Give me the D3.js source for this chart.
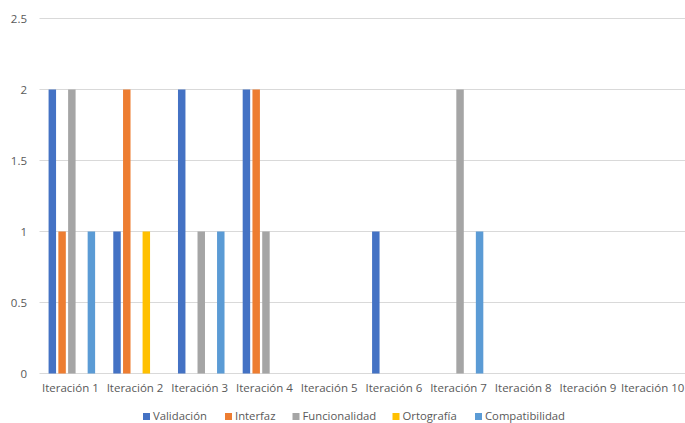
<!DOCTYPE html>
<html>
<head>
<meta charset="utf-8">
<script src="https://cdn.jsdelivr.net/npm/d3@7"></script>
<style>
  html, body { margin: 0; padding: 0; background: #ffffff; }
  svg { display: block; }
  text { font-family: "Open Sans", "Noto Sans", sans-serif; fill: #595959; }
</style>
</head>
<body>
<svg id="chart" width="685" height="423"></svg>
<script>
// Defect counts per iteration, by category
const iterations = ["Iteración 1", "Iteración 2", "Iteración 3", "Iteración 4", "Iteración 5",
                    "Iteración 6", "Iteración 7", "Iteración 8", "Iteración 9", "Iteración 10"];
const seriesNames = ["Validación", "Interfaz", "Funcionalidad", "Ortografía", "Compatibilidad"];
const validacion     = [2, 1, 2, 2, 0, 1, 0, 0, 0, 0];
const interfaz       = [1, 2, 0, 2, 0, 0, 0, 0, 0, 0];
const funcionalidad  = [2, 0, 1, 1, 0, 0, 2, 0, 0, 0];
const ortografia     = [0, 1, 0, 0, 0, 0, 0, 0, 0, 0];
const compatibilidad = [1, 0, 1, 0, 0, 0, 1, 0, 0, 0];
const yTicks = [0, 0.5, 1, 1.5, 2, 2.5];
const colors = ["#4472C4", "#ED7D31", "#A5A5A5", "#FFC000", "#5B9BD5"];

const seriesValues = [validacion, interfaz, funcionalidad, ortografia, compatibilidad];
const rows = iterations.map((it, i) => ({
  iteration: it,
  values: seriesNames.map((s, k) => ({ series: s, value: seriesValues[k][i] }))
}));

const svg = d3.select("#chart");
const plotLeft = 39.5, plotRight = 686.5, plotTop = 18.5, plotBottom = 373.5;
const fontSize = "11.5px";

const x0 = d3.scaleBand().domain(iterations).range([plotLeft, plotRight]).padding(0);
const x1 = d3.scaleBand().domain(seriesNames).range([0, x0.bandwidth()])
  .paddingInner(0.235).paddingOuter(0.93);
const y = d3.scaleLinear().domain([0, 2.5]).range([plotBottom, plotTop]);
const color = d3.scaleOrdinal().domain(seriesNames).range(colors);

// Horizontal gridlines
svg.append("g")
  .selectAll("line")
  .data(yTicks)
  .join("line")
  .attr("x1", plotLeft).attr("x2", 685)
  .attr("y1", d => y(d)).attr("y2", d => y(d))
  .attr("stroke", "#D9D9D9").attr("stroke-width", 1);

// Y axis labels
const yAxis = d3.axisLeft(y).tickValues(yTicks).tickSize(0).tickPadding(0)
  .tickFormat(d3.format(""));
svg.append("g")
  .attr("transform", `translate(27,0)`)
  .call(yAxis)
  .call(g => g.select(".domain").remove())
  .call(g => g.selectAll("text")
    .attr("font-size", fontSize)
    .attr("font-family", "'Open Sans', sans-serif")
    .attr("fill", "#595959"));

// Bars
svg.append("g")
  .selectAll("g")
  .data(rows)
  .join("g")
  .attr("transform", d => `translate(${x0(d.iteration)},0)`)
  .selectAll("rect")
  .data(d => d.values.filter(v => v.value > 0))
  .join("rect")
  .attr("x", d => x1(d.series))
  .attr("width", x1.bandwidth())
  .attr("y", d => y(d.value))
  .attr("height", d => y(0) - y(d.value))
  .attr("fill", d => color(d.series));

// X axis labels
const xAxis = d3.axisBottom(x0).tickSize(0).tickPadding(0);
svg.append("g")
  .attr("transform", `translate(-1.5,${plotBottom + 10})`)
  .call(xAxis)
  .call(g => g.select(".domain").remove())
  .call(g => g.selectAll("text")
    .attr("font-size", fontSize)
    .attr("font-family", "'Open Sans', sans-serif")
    .attr("fill", "#595959"));

// Legend
const legendX = [143, 225, 292.5, 392.5, 475];
const legend = svg.append("g")
  .selectAll("g")
  .data(seriesNames)
  .join("g")
  .attr("transform", (d, i) => `translate(${legendX[i]},416.5)`);
legend.append("rect")
  .attr("x", 0).attr("y", -3.5).attr("width", 7).attr("height", 7)
  .attr("fill", d => color(d));
legend.append("text")
  .attr("x", 10).attr("y", 0).attr("dy", "0.35em")
  .attr("font-size", "11.3px")
  .text(d => d);
</script>
</body>
</html>
